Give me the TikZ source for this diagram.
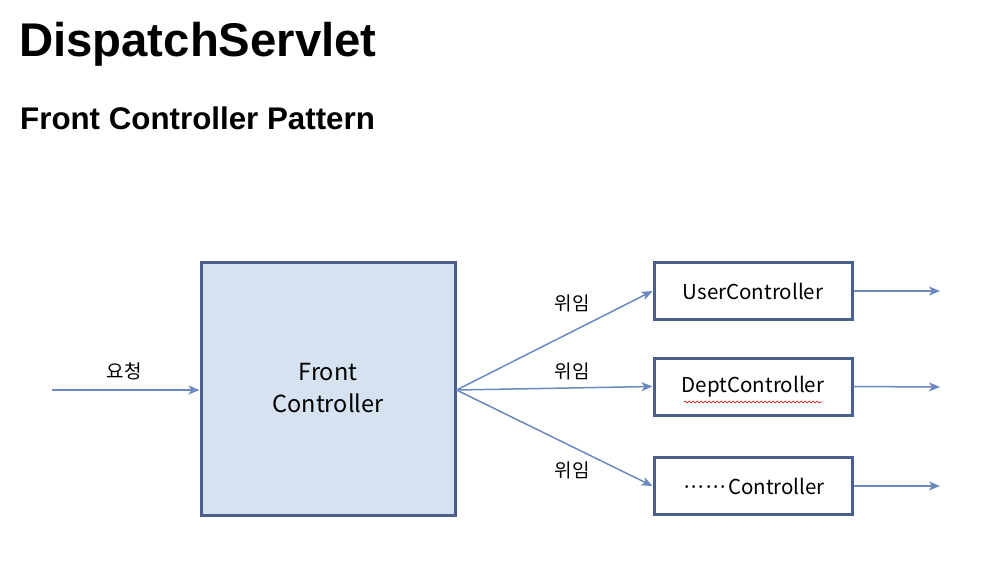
\documentclass[tikz,border=0pt]{standalone}
\usepackage{fontspec}
\setmainfont{Liberation Sans}
\newfontfamily\kofont{Noto Sans CJK KR}
\usetikzlibrary{arrows.meta,decorations.pathmorphing}
\definecolor{boxborder}{HTML}{4B5F8C}
\definecolor{boxfill}{HTML}{D7E2F0}
\definecolor{arrowcol}{HTML}{6B88C0}
\newcommand{\mydot}{\textperiodcentered\kern-4.2pt}
\tikzset{
  ctrlbox/.style={draw=boxborder, line width=3pt, fill=white, minimum width=198pt, minimum height=57pt, inner sep=0pt, font=\kofont\fontsize{20.5}{24}\selectfont},
  frontbox/.style={draw=boxborder, line width=3pt, fill=boxfill, minimum width=254pt, minimum height=253pt, inner sep=0pt, align=center, font=\kofont\fontsize{23.5}{32}\selectfont},
  flow/.style={draw=arrowcol, line width=1.5pt, -{Stealth[length=11pt,width=9pt,inset=3pt]}},
  lbl/.style={font=\kofont\fontsize{19}{21}\selectfont, inner sep=0pt},
  titlea/.style={anchor=base west, inner sep=0pt, font=\bfseries\fontsize{47.3}{50}\selectfont},
  titleb/.style={anchor=base west, inner sep=0pt, font=\bfseries\fontsize{31.3}{36}\selectfont}
}
\begin{document}
\begin{tikzpicture}[x=1pt,y=-1pt]
\useasboundingbox (0,0) rectangle (982,582);
\node[titlea] (t1) at (19,56) {DispatchServlet};
\node[titleb] (t2) at (20,129) {Front Controller Pattern};

\node[frontbox] (fc) at (328,388.5) {Front\\Controller};
\node[ctrlbox] (uc) at (753,291) {UserController};
\node[ctrlbox] (dc) at (753,386.5) {DeptController};
\node[ctrlbox] (xc) at (753,486) {\mydot\mydot\mydot\mydot\mydot\textperiodcentered\kern-1pt Controller};

\coordinate (in) at (52,390);
\coordinate (fo) at (fc.east |- 0,390);
\coordinate (uo) at (940,291);
\coordinate (do) at (940,387);
\coordinate (xo) at (940,486);

\draw[flow] (in) -- (fc.west |- in);
\draw[flow] (fo) -- (uc.west);
\draw[flow] (fo) -- (dc.west);
\draw[flow] (fo) -- (xc.west);
\draw[flow] (uc.east) -- (uo);
\draw[flow] (dc.east) -- (do);
\draw[flow] (xc.east) -- (xo);

\node[lbl] (l0) at (124,371) {요청};
\node[lbl] (l1) at (572,303) {위임};
\node[lbl] (l2) at (572,371) {위임};
\node[lbl] (l3) at (572,470) {위임};

\draw[red!75!black, line width=0.6pt, decorate, decoration={snake, amplitude=0.9pt, segment length=4pt}] (684,402) -- (822,402);
\end{tikzpicture}
\end{document}
